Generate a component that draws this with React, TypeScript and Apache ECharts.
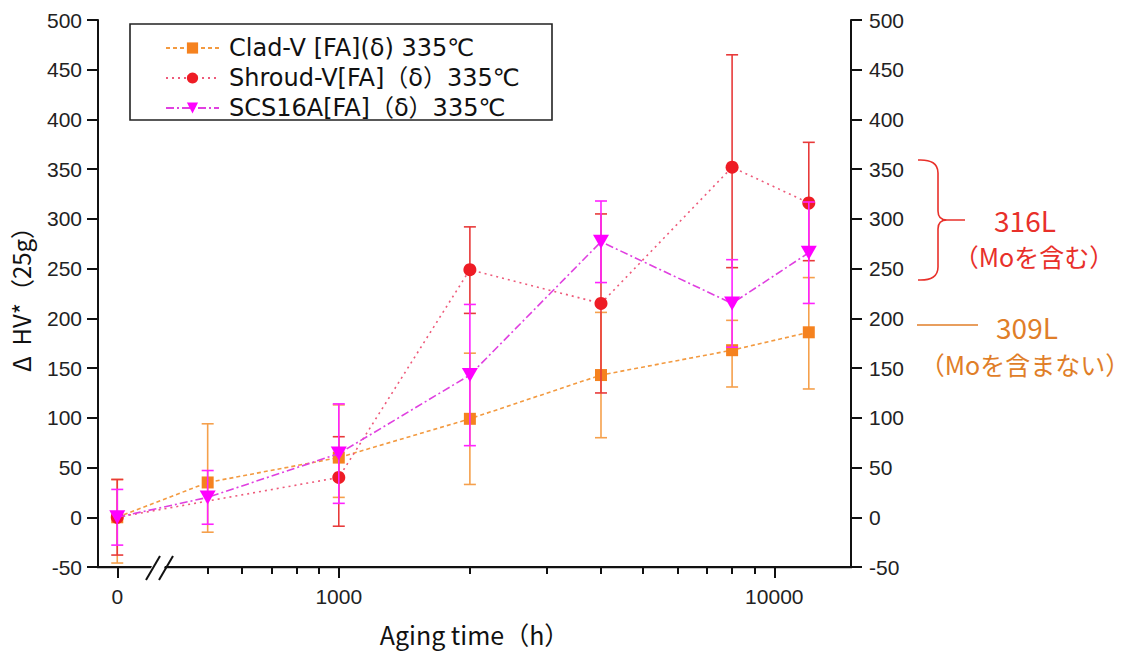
import React, { useEffect, useRef } from "react";
import * as echarts from "echarts";

// ---- data ----
const hours = [0, 500, 1000, 2000, 4000, 8000, 12000];
const ZERO_AT = 310; // where the "0 h" column is drawn on the broken log axis
const majorTicks = [ZERO_AT, 1000, 10000];
const minorTicks = [500, 600, 700, 800, 900, 2000, 3000, 4000, 5000, 6000, 7000, 8000, 9000];

const cladV = [0, 35, 60, 99, 143, 168, 186];
const cladLow = [-46, -15, 20, 33, 80, 131, 129];
const cladHigh = [38, 94, 113, 165, 206, 198, 241];

const shroudV = [0, null, 40, 249, 215, 352, 316];
const shroudLow = [-38, null, -9, 205, 125, 251, 258];
const shroudHigh = [38, null, 81, 292, 305, 465, 377];

const scsV = [0, 20, 64, 143, 277, 215, 266];
const scsLow = [-28, -7, 14, 72, 236, 171, 215];
const scsHigh = [28, 47, 114, 214, 318, 259, 317];

const names = ["Clad-V [FA](δ) 335℃", "Shroud-V[FA]（δ）335℃", "SCS16A[FA]（δ）335℃"];

const BRACE_D =
  "M918,160 Q938,159 938,173 L938,211 Q938,220 947,220 L965,220 M947,220 Q938,220 938,229 L938,267 Q938,281 918,280";

let registered = false;
function ensureShapes() {
  if (registered) return;
  echarts.graphic.registerShape("brace316", echarts.graphic.extendPath(BRACE_D, {}) as any);
  registered = true;
}

const xOf = (h: number) => (h === 0 ? ZERO_AT : h);

function lineData(vals: (number | null)[]) {
  return hours.map((h, i) => [xOf(h), vals[i]]);
}
function errData(vals: (number | null)[], lo: (number | null)[], hi: (number | null)[]) {
  const out: any[] = [];
  hours.forEach((h, i) => {
    if (vals[i] !== null) out.push([xOf(h), vals[i], lo[i], hi[i]]);
  });
  return out;
}

function errSeries(name: string, data: any[], color: string, z: number) {
  return {
    type: "custom",
    name,
    xAxisIndex: 0,
    yAxisIndex: 0,
    z,
    silent: true,
    encode: { x: 0, y: 1 },
    data,
    renderItem: (params: any, api: any) => {
      const x = api.value(0);
      const lo = api.coord([x, api.value(2)]);
      const hi = api.coord([x, api.value(3)]);
      const w = 6;
      const st = { stroke: color, lineWidth: 1.6 };
      return {
        type: "group",
        children: [
          { type: "line", shape: { x1: lo[0], y1: lo[1], x2: hi[0], y2: hi[1] }, style: st },
          { type: "line", shape: { x1: lo[0] - w, y1: lo[1], x2: lo[0] + w, y2: lo[1] }, style: st },
          { type: "line", shape: { x1: hi[0] - w, y1: hi[1], x2: hi[0] + w, y2: hi[1] }, style: st },
        ],
      };
    },
  };
}

const NUM_FONT = "Liberation Sans, Arial, sans-serif";
const JP_FONT = "Noto Sans CJK JP, sans-serif";
const LEG_FONT = "DejaVu Sans, Noto Sans CJK JP, sans-serif";

export default function App() {
  const ref = useRef<HTMLDivElement>(null);
  useEffect(() => {
    if (!ref.current) return;
    ensureShapes();
    const chart = echarts.init(ref.current, undefined, { renderer: "svg" });
    const fmtX = (v: number) => (Math.abs(v - ZERO_AT) < 1 ? "0" : String(Math.round(v)));
    const yAxisCommon = {
      type: "value",
      min: -50,
      max: 500,
      interval: 50,
      splitLine: { show: false },
      axisLine: { show: true, onZero: false, lineStyle: { color: "#111", width: 2 } },
      axisTick: { show: true, length: 11, lineStyle: { color: "#111", width: 2 } },
    };
    chart.setOption({
      animation: false,
      backgroundColor: "#fff",
      grid: { left: 98, right: 283, top: 20, bottom: 90, containLabel: false, outerBoundsMode: "none" },
      xAxis: [
        {
          type: "log",
          min: 280,
          max: 15000,
          position: "bottom",
          name: "Aging time（h）",
          nameLocation: "middle",
          nameGap: 54,
          nameTextStyle: { fontSize: 25, color: "#111", fontFamily: JP_FONT },
          splitLine: { show: false },
          minorTick: { show: false },
          axisLine: { show: true, onZero: false, lineStyle: { color: "#111", width: 2 } },
          axisTick: { show: true, length: 11, customValues: majorTicks, lineStyle: { color: "#111", width: 2 } },
          axisLabel: {
            customValues: majorTicks,
            formatter: fmtX,
            fontSize: 21,
            margin: 19,
            color: "#222",
            fontFamily: NUM_FONT,
          },
        },
        {
          type: "log",
          min: 280,
          max: 15000,
          position: "bottom",
          splitLine: { show: false },
          axisLine: { show: false, onZero: false },
          axisTick: { show: true, length: 7, customValues: minorTicks, lineStyle: { color: "#111", width: 2 } },
          axisLabel: { show: false },
        },
      ],
      yAxis: [
        {
          ...yAxisCommon,
          position: "left",
          name: "Δ  HV*（25g）",
          nameLocation: "middle",
          nameGap: 66,
          nameTextStyle: { fontSize: 24, color: "#111", fontFamily: JP_FONT },
          axisLabel: { fontSize: 21, margin: 16, color: "#222", fontFamily: NUM_FONT },
        },
        {
          ...yAxisCommon,
          position: "right",
          axisLabel: { fontSize: 21, margin: 18, color: "#222", fontFamily: NUM_FONT },
        },
      ],
      legend: {
        data: names,
        orient: "vertical",
        left: 165,
        top: 36,
        itemWidth: 53,
        itemHeight: 14,
        itemGap: 6,
        padding: 0,
        textStyle: { fontSize: 24, color: "#111", fontFamily: LEG_FONT, padding: [0, 0, 0, 5] },
      },
      series: [
        errSeries("e1", errData(cladV, cladLow, cladHigh), "#f5a04c", 2),
        {
          type: "line",
          name: names[0],
          z: 3,
          data: lineData(cladV),
          symbol: "rect",
          symbolSize: 12,
          itemStyle: { color: "#f5821f" },
          lineStyle: { color: "#f39a40", width: 1.6, type: [4, 3] },
          connectNulls: true,
        },
        errSeries("e2", errData(shroudV, shroudLow, shroudHigh), "#e83a3a", 4),
        {
          type: "line",
          name: names[1],
          z: 5,
          data: lineData(shroudV),
          symbol: "circle",
          symbolSize: 13,
          itemStyle: { color: "#ee1c25" },
          lineStyle: { color: "#ee5a7a", width: 1.6, type: [2, 4] },
          connectNulls: true,
        },
        errSeries("e3", errData(scsV, scsLow, scsHigh), "#ff22ff", 6),
        {
          type: "line",
          name: names[2],
          z: 7,
          data: lineData(scsV),
          symbol: "triangle",
          symbolRotate: 180,
          symbolSize: [16, 14],
          itemStyle: { color: "#ff00ff" },
          lineStyle: { color: "#e040e0", width: 1.6, type: [8, 3, 2, 3] },
          connectNulls: true,
        },
      ],
      graphic: [
        {
          type: "rect",
          z: 50,
          shape: { x: 97, y: 566, width: 755, height: 2.2 },
          style: { fill: "#111" },
        },
        {
          type: "rect",
          z: 100,
          shape: { x: 130, y: 24, width: 422, height: 96 },
          style: { fill: "none", stroke: "#222", lineWidth: 1.6 },
        },
        {
          type: "polygon",
          z: 100,
          shape: { points: [[149, 573], [154, 561], [167, 561], [162, 573]] },
          style: { fill: "#fff" },
        },
        { type: "line", z: 101, shape: { x1: 146, y1: 580, x2: 160, y2: 556 }, style: { stroke: "#111", lineWidth: 2 } },
        { type: "line", z: 101, shape: { x1: 159, y1: 580, x2: 173, y2: 556 }, style: { stroke: "#111", lineWidth: 2 } },
        { type: "brace316", z: 100, x: 0, y: 0, style: { fill: "none", stroke: "#e8302a", lineWidth: 1.6 } },
        {
          type: "text",
          z: 100,
          style: { x: 1025, y: 220, text: "316L", fill: "#e8302a", fontSize: 28, lineHeight: 28, fontFamily: JP_FONT, align: "center", verticalAlign: "middle" },
        },
        {
          type: "text",
          z: 100,
          style: { x: 1034, y: 256, text: "（Moを含む）", fill: "#e8302a", fontSize: 25, lineHeight: 24, fontFamily: JP_FONT, align: "center", verticalAlign: "middle" },
        },
        { type: "line", z: 100, shape: { x1: 917, y1: 325, x2: 978, y2: 325 }, style: { stroke: "#e07e28", lineWidth: 1.6 } },
        {
          type: "text",
          z: 100,
          style: { x: 1027, y: 327, text: "309L", fill: "#e07e28", fontSize: 28, lineHeight: 28, fontFamily: JP_FONT, align: "center", verticalAlign: "middle" },
        },
        {
          type: "text",
          z: 100,
          style: { x: 1025, y: 364, text: "（Moを含まない）", fill: "#e07e28", fontSize: 25, lineHeight: 24, fontFamily: JP_FONT, align: "center", verticalAlign: "middle" },
        },
      ],
    });
    return () => chart.dispose();
  }, []);
  return <div ref={ref} style={{ position: "fixed", left: 0, top: 0, width: 1134, height: 657 }} />;
}
